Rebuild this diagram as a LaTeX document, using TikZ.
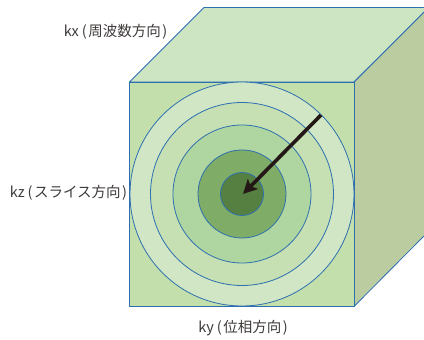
\documentclass[tikz,border=0pt]{standalone}
\usepackage{fontspec}
\setmainfont{Noto Sans CJK JP}
\usepackage{xcolor}
\usepackage{tikz}
\usetikzlibrary{arrows.meta}

\definecolor{topface}{HTML}{CDE5C3}
\definecolor{frontface}{HTML}{C3DFAC}
\definecolor{sideface}{HTML}{BBCCA1}
\definecolor{ringa}{HTML}{D0E6C5}
\definecolor{ringb}{HTML}{C6E0B4}
\definecolor{ringc}{HTML}{AFD5A0}
\definecolor{ringd}{HTML}{7FAD68}
\definecolor{ringe}{HTML}{558042}
\definecolor{edgeblue}{HTML}{2E6FB0}
\definecolor{inktext}{HTML}{3E3A39}
\definecolor{inkarrow}{HTML}{231815}

\tikzset{
	face/.style={draw=edgeblue, line width=0.8pt, line join=round},
	axislabel/.style={font=\fontsize{14.5}{16}\selectfont, text=inktext, inner sep=0pt},
}
\newcommand{\axistext}[2]{#1\hspace{3pt}(\hspace{1.5pt}#2\hspace{1.5pt})}

\begin{document}
\begin{tikzpicture}[x=1pt,y=-1pt]
\useasboundingbox (0,0) rectangle (424,340);

% ---- cube ----
\fill[sideface] (354,82) -- (424,12) -- (424,236) -- (354,306.5) -- cycle;
\draw[face] (424,236) -- (354,306.5);
\filldraw[face,fill=topface] (424,7.5) -- (204,7.5) -- (129.5,82) -- (354,82) -- (424,12);
\fill[topface] (424,7.5) -- (424,12) -- (354,82) -- cycle;
\draw[face] (354,82) -- (424,12);
\filldraw[face,fill=frontface] (129.5,82) rectangle (354,306.5);

% ---- rings ----
\foreach \rad/\col in {112/ringa,91.5/ringb,69/ringc,44/ringd,21.5/ringe}
	\filldraw[face,fill=\col] (242,194) circle (\rad);

% ---- vector ----
\coordinate (vecstart) at (321,115);
\coordinate (vecend) at (243,194);
\draw[-{Stealth[length=14pt,width=14pt,inset=3pt]},inkarrow,line width=3.6pt] (vecstart) -- (vecend);

% ---- labels ----
\node[axislabel] (kxlabel) at (115.5,31.5) {\axistext{kx}{周波数方向}};
\node[axislabel] (kzlabel) at (68.5,192.5) {\axistext{kz}{スライス方向}};
\node[axislabel] (kylabel) at (243,328.5) {\axistext{ky}{位相方向}};
\end{tikzpicture}
\end{document}
